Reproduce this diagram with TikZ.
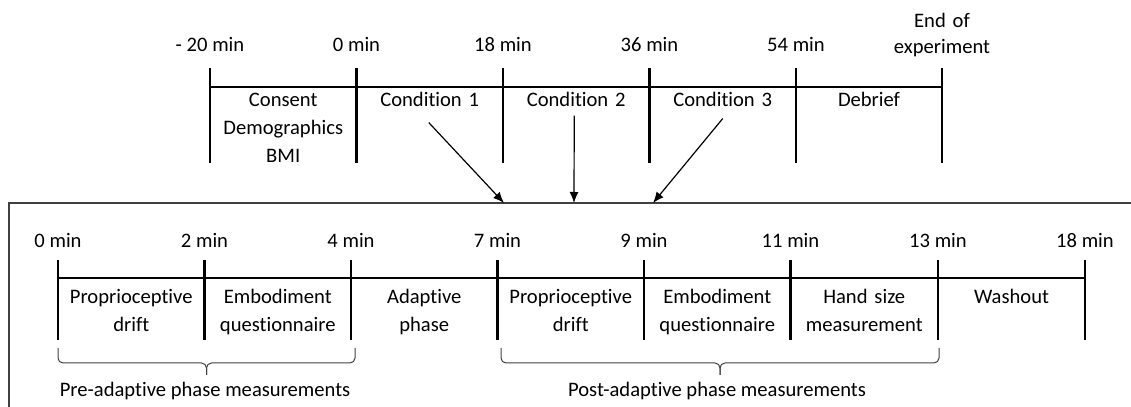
\documentclass[tikz,border=0pt]{standalone}
\usepackage{fontspec}
\setmainfont[Ligatures=NoCommon]{Carlito}
\usetikzlibrary{arrows.meta}

\tikzset{
  tickline/.style={line width=1.3pt},
  timelabel/.style={anchor=base, inner sep=0pt},
  segtext/.style={anchor=base, inner sep=0pt, align=center, text width=70pt},
  condarrow/.style={line width=0.6pt, -{Latex[length=5.5pt,width=4.5pt]}},
  measbrace/.style={line width=0.5pt, draw=black!75, rounded corners=2.5pt},
}

\begin{document}
\begin{tikzpicture}[x=0.5pt, y=0.5pt, font=\fontsize{10.3}{14}\selectfont]
\useasboundingbox (0,0) rectangle (1131,407);
\clip (0,0) rectangle (1131,407);

% whole session
\draw[tickline] (210,320) -- (942,320);
\draw[tickline] (210,339) -- (210,244) (356.5,339) -- (356.5,244)
  (503,339) -- (503,244) (649.5,339) -- (649.5,244)
  (796,339) -- (796,244) (942,339) -- (942,244);

\node[timelabel] (s0) at (210,355) {- 20 min};
\node[timelabel] (s1) at (356.5,355) {0 min};
\node[timelabel] (s2) at (503,355) {18 min};
\node[timelabel] (s3) at (649.5,355) {36 min};
\node[timelabel] (s4) at (796,355) {54 min};
\node[segtext] (s5) at (942,379) {End of\\[-1pt]experiment};

\node[segtext] (consent) at (283.25,300) {Consent\\Demographics\\BMI};
\node[segtext] (cond1) at (429.75,300) {Condition 1};
\node[segtext] (cond2) at (576.25,300) {Condition 2};
\node[segtext] (cond3) at (722.75,300) {Condition 3};
\node[segtext] (debrief) at (869,300) {Debrief};

% one condition
\draw[draw=black!75, line width=0.65pt] (9,-20) rectangle (1150,204);

\coordinate (in1) at (504,204);
\coordinate (in2) at (574,204);
\coordinate (in3) at (653,204);
\draw[condarrow] ([xshift=-0.5pt, yshift=-7.5pt]cond1.south) -- (in1);
\draw[condarrow] ([xshift=-1pt, yshift=-4pt]cond2.south) -- (in2);
\draw[condarrow] ([yshift=-5.5pt]cond3.south) -- (in3);

\draw[tickline] (58,129) -- (1085,129);
\draw[tickline] (58,147) -- (58,67) (204.5,147) -- (204.5,67)
  (351,147) -- (351,67) (497.5,147) -- (497.5,67)
  (644,147) -- (644,67) (790.5,147) -- (790.5,67)
  (938,147) -- (938,67) (1085,147) -- (1085,67);

\node[timelabel] (m0) at (58,159) {0 min};
\node[timelabel] (m2) at (204.5,159) {2 min};
\node[timelabel] (m4) at (351,159) {4 min};
\node[timelabel] (m7) at (497.5,159) {7 min};
\node[timelabel] (m9) at (644,159) {9 min};
\node[timelabel] (m11) at (790.5,159) {11 min};
\node[timelabel] (m13) at (938,159) {13 min};
\node[timelabel] (m18) at (1085,159) {18 min};

\node[segtext] (drift1) at (131.25,103) {Proprioceptive\\drift};
\node[segtext] (quest1) at (277.75,103) {Embodiment\\questionnaire};
\node[segtext] (adapt) at (424.25,103) {Adaptive\\phase};
\node[segtext] (drift2) at (570.75,103) {Proprioceptive\\drift};
\node[segtext] (quest2) at (717.25,103) {Embodiment\\questionnaire};
\node[segtext] (handsize) at (864.25,103) {Hand size\\measurement};
\node[segtext] (washout) at (1011.5,103) {Washout};

% measurement blocks
\draw[measbrace] (58,59) |- (206.5,44) -- (206.5,32);
\draw[measbrace] (355,59) |- (206.5,44) -- (206.5,32);
\draw[measbrace] (501,59) |- (720,44) -- (720,32);
\draw[measbrace] (939,59) |- (720,44) -- (720,32);

\node[timelabel] (prelab) at (205,10) {Pre-adaptive phase measurements};
\node[timelabel] (postlab) at (717,10) {Post-adaptive phase measurements};
\end{tikzpicture}
\end{document}
